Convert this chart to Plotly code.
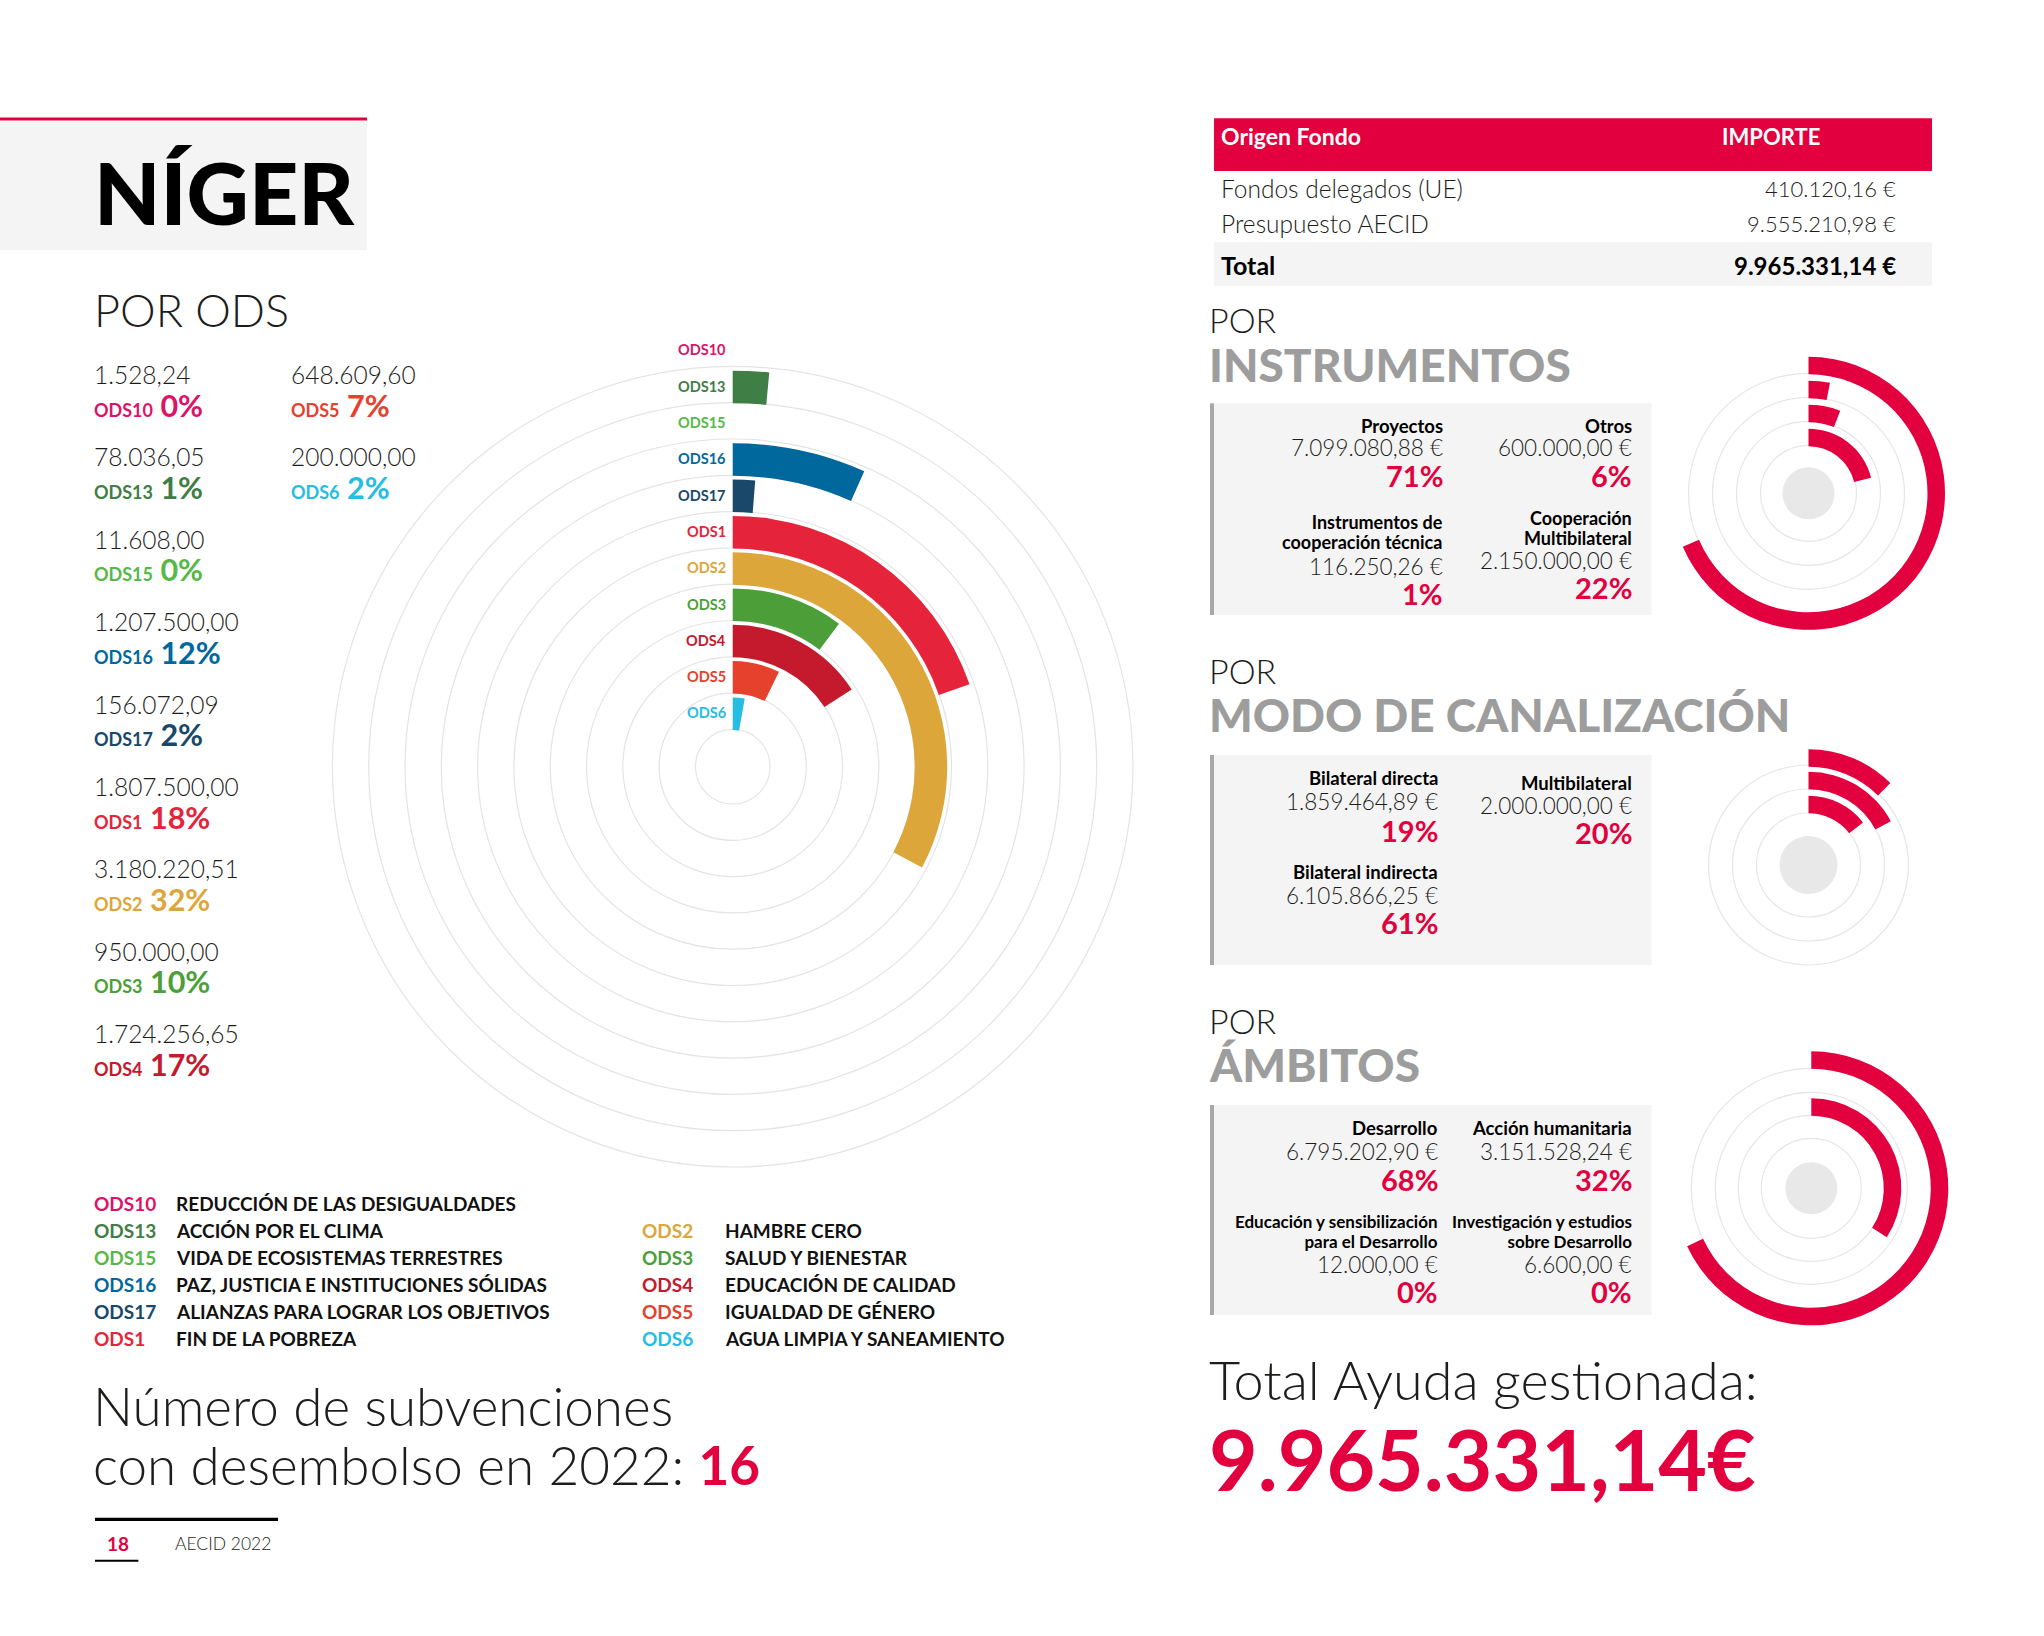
import plotly.graph_objects as go

W, H = 2044, 1636
FONT = "Lato"
RED = "#E2003E"
INK = "#1d1d1b"
GREY_HEAD = "#9d9d9d"
MID = 0.387   # (ascent - descent) / 2 for Lato, in em

# ---------------- data ----------------
ods_codes = ["ODS10", "ODS13", "ODS15", "ODS16", "ODS17", "ODS1",
             "ODS2", "ODS3", "ODS4", "ODS5", "ODS6"]
ods_amounts = ["1.528,24", "78.036,05", "11.608,00", "1.207.500,00", "156.072,09",
               "1.807.500,00", "3.180.220,51", "950.000,00", "1.724.256,65",
               "648.609,60", "200.000,00"]
ods_pct = [0, 1, 0, 12, 2, 18, 32, 10, 17, 7, 2]
# arc length of each ring as drawn in the picture (degrees, clockwise from 12 o'clock)
ods_arc_deg = [0, 5.3, 0, 24, 4.5, 70.8, 118, 36.6, 57, 26, 10]
ods_names = ["REDUCCIÓN DE LAS DESIGUALDADES", "ACCIÓN POR EL CLIMA",
             "VIDA DE ECOSISTEMAS TERRESTRES", "PAZ, JUSTICIA E INSTITUCIONES SÓLIDAS",
             "ALIANZAS PARA LOGRAR LOS OBJETIVOS", "FIN DE LA POBREZA",
             "HAMBRE CERO", "SALUD Y BIENESTAR", "EDUCACIÓN DE CALIDAD",
             "IGUALDAD DE GÉNERO", "AGUA LIMPIA Y SANEAMIENTO"]
ods_colors = ["#DD1367", "#3F7E44", "#56B848", "#00689D", "#19486A", "#E5243B",
              "#DDA63A", "#4C9F38", "#C5192D", "#E5412D", "#26BDE2"]

fund_sources = ["Fondos delegados (UE)", "Presupuesto AECID"]
fund_amounts = ["410.120,16 €", "9.555.210,98 €"]
fund_total = "9.965.331,14 €"

inst_labels = ["Proyectos", "Otros", "Instrumentos de<br>cooperación técnica",
               "Cooperación<br>Multibilateral"]
inst_amounts = ["7.099.080,88 €", "600.000,00 €", "116.250,26 €", "2.150.000,00 €"]
inst_pct = [71, 6, 1, 22]
inst_arc_deg = [247, 21, 11, 76]

modo_labels = ["Bilateral directa", "Multibilateral", "Bilateral indirecta"]
modo_amounts = ["1.859.464,89 €", "2.000.000,00 €", "6.105.866,25 €"]
modo_pct = [19, 20, 61]
modo_arc_deg = [52, 62, 45]

amb_labels = ["Desarrollo", "Acción humanitaria",
              "Educación y sensibilización<br>para el Desarrollo",
              "Investigación y estudios<br>sobre Desarrollo"]
amb_amounts = ["6.795.202,90 €", "3.151.528,24 €", "12.000,00 €", "6.600,00 €"]
amb_pct = [68, 32, 0, 0]
amb_arc_deg = [245, 123, 0, 0]

n_subvenciones = 16
total_text = "9.965.331,14€"

# ---------------- helpers ----------------
def px(x):
    return x / W

def py(y):
    return 1 - y / H

annotations = []
shapes = []

def ann(text, x, y, size, color=INK, weight=300, xanchor="left", align="left",
        yanchor="middle", family=FONT):
    annotations.append(dict(text=text, x=px(x), y=py(y), xref="paper", yref="paper",
                            xanchor=xanchor, yanchor=yanchor, align=align,
                            showarrow=False, borderpad=0, borderwidth=0,
                            font=dict(family=family, size=size, color=color, weight=weight)))

def line_at(text, x, base, size, **kw):
    """place a single text line by its baseline"""
    ann(text, x, base - MID * size, size, **kw)

def span(text, size, color=None, weight=None):
    st = f"font-size:{size}px"
    if color:
        st += f";color:{color}"
    if weight:
        st += f";font-weight:{weight}"
    return f"<span style='{st}'>{text}</span>"

def rect(x0, y0, x1, y1, color):
    shapes.append(dict(type="rect", xref="paper", yref="paper", x0=px(x0), x1=px(x1),
                       y0=py(y1), y1=py(y0), fillcolor=color, line=dict(width=0),
                       layer="below"))

def disc(cx, cy, r, color):
    shapes.append(dict(type="circle", xref="paper", yref="paper",
                       x0=px(cx - r), x1=px(cx + r), y0=py(cy + r), y1=py(cy - r),
                       fillcolor=color, line=dict(width=0), layer="above"))

fig = go.Figure()
polars = {}

def polar_layout(name, cx, cy, R, circles, gridcolor):
    polars[name] = dict(
        domain=dict(x=[px(cx - R), px(cx + R)], y=[py(cy + R), py(cy - R)]),
        bgcolor="rgba(0,0,0,0)",
        radialaxis=dict(range=[0, R], tickvals=circles, showticklabels=False, ticks="",
                        showline=False, gridcolor=gridcolor, gridwidth=1.2,
                        layer="below traces"),
        angularaxis=dict(direction="clockwise", rotation=90, showgrid=False,
                         showline=False, showticklabels=False, ticks=""),
    )

def ring_bars(subplot, arcs, bases, thick, colors):
    r, b, th, wd, cl = [], [], [], [], []
    for a, base, c in zip(arcs, bases, colors):
        if a <= 0:
            continue
        r.append(thick); b.append(base); th.append(a / 2); wd.append(a); cl.append(c)
    fig.add_trace(go.Barpolar(r=r, base=b, theta=th, width=wd, subplot=subplot,
                              marker=dict(color=cl, line=dict(width=0)),
                              hoverinfo="skip", showlegend=False))

# ---------------- title block ----------------
rect(0, 117.5, 367, 120.5, RED)
rect(0, 121.5, 367, 250, "#f4f4f4")
ann("NÍGER", 93.5, 191, 86, color="#000000", weight=900)
ann("POR ODS", 94, 309.5, 45, weight=300)

# ---------------- left ODS list ----------------
for i, (code, amt, pc, col) in enumerate(zip(ods_codes, ods_amounts, ods_pct, ods_colors)):
    if i < 9:
        x0, row = 93.5, i
    else:
        x0, row = 290.5, i - 9
    b1 = 384 + 82.4 * row
    line_at(amt, x0, b1, 24.5, color=INK, weight=300)
    line_at(span(code, 18) + " " + f"{pc}%", x0, b1 + 32.5, 30.5, color=col, weight=700)

# ---------------- main radial chart ----------------
CX, CY = 732.7, 766.7
HOLE, PITCH = 37.3, 36.3
main_circles = [HOLE + PITCH * k for k in range(11)]
polar_layout("polar", CX, CY, 420, main_circles, "#e4e4e4")
n = len(ods_codes)
ring_of = [n - 1 - i for i in range(n)]          # ODS6 innermost, ODS10 outermost
ring_bars("polar", ods_arc_deg, [HOLE + PITCH * k - 0.5 for k in ring_of], 32.5, ods_colors)
for code, col, k in zip(ods_codes, ods_colors, ring_of):
    ann(code, CX - 7, CY - (HOLE + PITCH * k + 16.5), 14.5, color=col, weight=700,
        xanchor="right", align="right")

# ---------------- ODS legend ----------------
for i, (code, name, col) in enumerate(zip(ods_codes, ods_names, ods_colors)):
    if i < 6:
        xc, xn, row = 93.5, 176, i
    else:
        xc, xn, row = 642, 725, i - 5
    yy = 1203 + 27.1 * row
    ann(code, xc, yy, 19, color=col, weight=700)
    ann(name, xn, yy, 19, color="#111111", weight=700)

# ---------------- subvenciones + footer ----------------
line_at("Número de subvenciones", 92.5, 1426, 53, weight=300)
line_at("con desembolso en 2022: " + span(str(n_subvenciones), 53, RED, 700),
        92.5, 1485.5, 53, weight=300)
rect(95, 1517.7, 278, 1521, "#000000")
ann("18", 107, 1543, 19, color=RED, weight=700)
ann("AECID 2022", 174.5, 1543, 17.5, weight=300)
rect(95, 1559.7, 138.4, 1561.7, "#000000")

# ---------------- funding table ----------------
TX0, TX1 = 1214, 1932
rect(TX0, 118.3, TX1, 171, RED)
ann("Origen Fondo", 1221, 136, 23, color="#ffffff", weight=700)
ann("IMPORTE", 1722, 136, 22, color="#ffffff", weight=700)
for j, (src, amt) in enumerate(zip(fund_sources, fund_amounts)):
    yy = 188.5 + 35 * j
    ann(src, 1221, yy, 24.5, weight=300)
    ann(amt, 1896, yy, 22, weight=300, xanchor="right", align="right")
rect(TX0, 242.3, TX1, 285.7, "#f4f4f4")
ann("Total", 1221, 265, 25, color="#000000", weight=700)
ann(fund_total, 1896, 265, 24, color="#000000", weight=700, xanchor="right", align="right")

# ---------------- right-side sections ----------------
def section(title, base_por, y0, y1):
    line_at("POR", 1209, base_por, 34, weight=300)
    line_at(title, 1209, base_por + 49, 46, color=GREY_HEAD, weight=900)
    rect(1210, y0, 1651.5, y1, "#f4f4f4")
    rect(1210, y0, 1214, y1, "#a8a8a8")

def block(label, amount, pct, xr, y_lab, y_amt, y_pct, lab_size=18):
    if "<br>" in label:
        parts = label.split("<br>")
        ann("<br>".join(span(p, lab_size) for p in parts), xr, y_lab, 20 / 1.3,
            color="#000000", weight=700, xanchor="right", align="right")
    else:
        ann(label, xr, y_lab, 18.5, color="#000000", weight=700,
            xanchor="right", align="right")
    line_at(amount, xr, y_amt + MID * 21, 22.5, weight=300, xanchor="right", align="right")
    line_at(f"{pct}%", xr, y_pct + MID * 29, 29, color=RED, weight=700,
            xanchor="right", align="right")

# Instrumentos
section("INSTRUMENTOS", 333, 403.3, 615)
inst_slots = [(1442.5, 426, 448.3, 475), (1631.5, 426, 448.3, 475),
              (1442.5, 532, 566.7, 593.3), (1631.5, 527.5, 560.7, 587.3)]
for lab, amt, pc, s in zip(inst_labels, inst_amounts, inst_pct, inst_slots):
    block(lab, amt, pc, *s)
ICX, ICY = 1808.5, 493.3
inst_circles = [48, 72, 96, 120]
inst_ring = [3, 1, 2, 0]
polar_layout("polar2", ICX, ICY, 145, inst_circles, "#e6e6e6")
ring_bars("polar2", inst_arc_deg, [inst_circles[k] - 1 for k in inst_ring], 17.5,
          [RED] * len(inst_arc_deg))
disc(ICX, ICY, 26, "#e8e8e8")

# Modo de canalización
section("MODO DE CANALIZACIÓN", 683.5, 755, 965)
modo_slots = [(1437.5, 778.3, 801.7, 830), (1631.5, 782.7, 806, 832.7),
              (1437.5, 871.7, 896, 922.7)]
for lab, amt, pc, s in zip(modo_labels, modo_amounts, modo_pct, modo_slots):
    block(lab, amt, pc, *s)
MCX, MCY = 1808.5, 865
modo_circles = [52, 76, 100]
polar_layout("polar3", MCX, MCY, 145, modo_circles, "#e6e6e6")
ring_bars("polar3", modo_arc_deg, [51.7, 75.7, 98.3], 17.5, [RED] * len(modo_arc_deg))
disc(MCX, MCY, 29, "#e8e8e8")

# Ámbitos
section("ÁMBITOS", 1033.5, 1105, 1315)
amb_slots = [(1437.5, 1128.3, 1151.7, 1179.3), (1631.5, 1128.3, 1151.7, 1179.3),
             (1437.5, 1231, 1265, 1291.7), (1631.5, 1231, 1265, 1291.7)]
for lab, amt, pc, s in zip(amb_labels, amb_amounts, amb_pct, amb_slots):
    block(lab, amt, pc, *s, lab_size=17)
ACX, ACY = 1811.3, 1188.3
amb_circles = [50, 73, 96, 120]
amb_ring = [3, 1, 0, 2]
polar_layout("polar4", ACX, ACY, 145, amb_circles, "#e6e6e6")
ring_bars("polar4", amb_arc_deg, [amb_circles[k] - 0.5 for k in amb_ring], 17.5,
          [RED] * len(amb_arc_deg))
disc(ACX, ACY, 26, "#e8e8e8")

# ---------------- total ----------------
line_at("Total Ayuda gestionada:", 1209, 1400.5, 54, weight=300)
line_at(total_text, 1209, 1491, 84, color=RED, weight=700)

fig.update_layout(
    width=W, height=H, margin=dict(l=0, r=0, t=0, b=0),
    paper_bgcolor="#ffffff", plot_bgcolor="#ffffff",
    showlegend=False, annotations=annotations, shapes=shapes,
    **polars,
)

fig.write_html("out.html", config={"displayModeBar": False, "staticPlot": True},
               post_script="document.body.style.margin='0';document.body.style.overflow='hidden';")
